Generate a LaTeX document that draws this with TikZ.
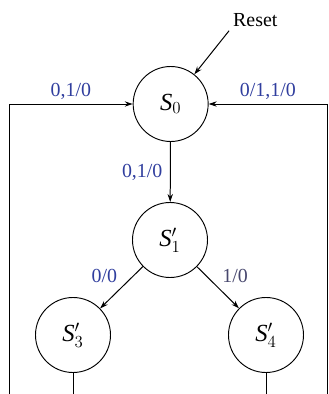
\documentclass[tikz,border=0pt]{standalone}
\usepackage{fontspec}
\setmainfont{Liberation Serif}
\usetikzlibrary{arrows.meta,positioning}
\definecolor{lblue}{RGB}{48,62,158}
\definecolor{lgrey}{RGB}{72,72,110}

\begin{document}
\begin{tikzpicture}[x=1cm,y=1cm,>={Stealth[length=2.4mm,width=1.6mm]},
  state/.style={circle,draw,line width=0.8pt,minimum size=2.25cm,inner sep=0pt,font=\fontsize{21}{24}\selectfont},
  lbl/.style={font=\fontsize{17}{19}\selectfont,text=lblue},
  wire/.style={line width=0.85pt}]
\useasboundingbox (0,0) rectangle (9.87,11.82);
% states
\node[state] (S0) at (5.12,8.70) {$\mathit{S}_0$};
\node[state] (S1) at (5.10,4.62) {$\mathit{S}'_1$};
\node[state] (S3) at (2.19,1.77) {$\mathit{S}'_3$};
\node[state] (S4) at (7.98,1.77) {$\mathit{S}'_4$};
% reset
\node[font=\fontsize{17}{19}\selectfont] (rst) at (7.66,11.22) {Reset};
\draw[wire,->] (rst.south west) -- (S0);
% transitions
\draw[wire,->] (S0) -- node[lbl,left=3pt] {0,1/0} (S1);
\draw[wire,->] (S1) -- node[lbl,above left] {0/0} (S3);
\draw[wire,->] (S1) -- node[lbl,above right,text=lgrey] {1/0} (S4);
\draw[wire,->] (S3.south) |- (0.27,-0.3) |- node[lbl,above,pos=0.75] {0,1/0} (S0.west);
\draw[wire,->] (S4.south) |- (9.81,-0.3) |- node[lbl,above,pos=0.75] {0/1,1/0} (S0.east);
\end{tikzpicture}
\end{document}
